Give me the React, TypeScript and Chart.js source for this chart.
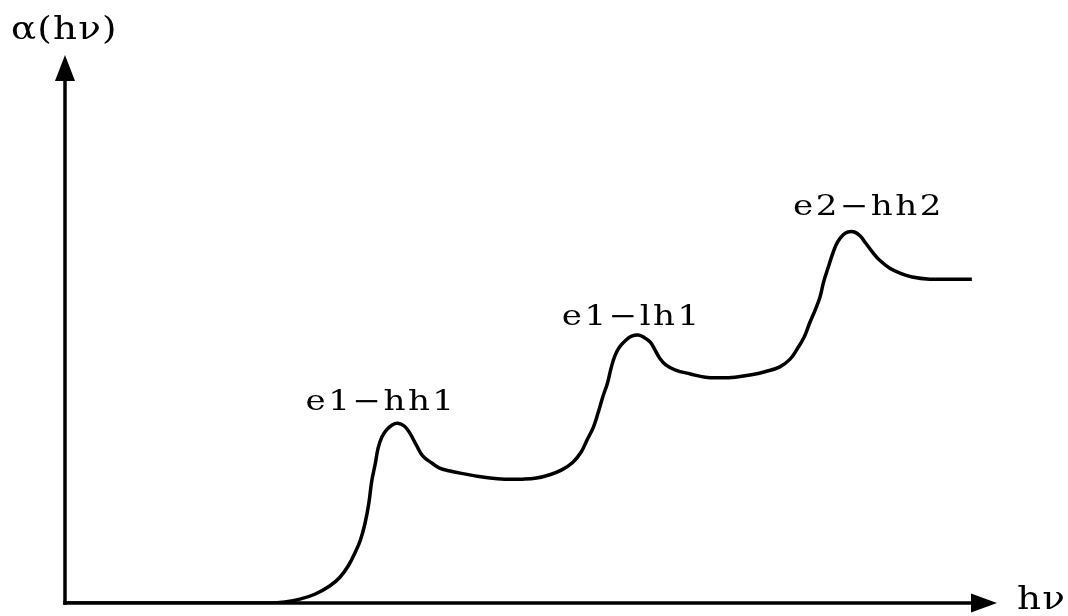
import React, { useEffect, useRef } from "react";
import { Chart, registerables } from "chart.js";

Chart.register(...registerables);

// Photon energy (arbitrary units)
const energy = [
  0, 22.0, 23.6, 25.2, 26.8, 28.4, 29.5, 30.4, 31.1, 31.7, 32.2, 32.6, 32.9, 33.3,
  33.6, 34.0, 34.5, 35.1, 35.7, 36.4, 37.0, 37.7, 38.4, 39.4, 40.2, 41.3, 42.4,
  44.0, 45.6, 47.2, 49.1, 50.6, 52.0, 53.3, 54.5, 55.4, 56.0, 56.7, 57.2, 57.7,
  58.2, 58.6, 59.0, 59.5, 60.2, 60.8, 61.5, 62.1, 62.8, 63.3, 63.8, 64.5, 65.5,
  67.1, 68.7, 70.3, 71.9, 73.5, 75.1, 76.7, 77.8, 78.5, 79.3, 79.9, 80.5, 81.0,
  81.4, 81.9, 82.4, 82.9, 83.5, 84.0, 84.7, 85.3, 85.9, 86.7, 87.5, 88.5, 89.6,
  90.9, 92.8, 94.9, 97.3,
];
// Absorption coefficient (arbitrary units)
const absorption = [
  0, 0, 0.2, 0.7, 1.6, 3.1, 4.7, 6.8, 9.1, 11.5, 14.6, 18.2, 22.1, 25.5,
  28.3, 30.3, 31.6, 32.5, 32.8, 32.3, 31.0, 28.8, 26.8, 25.5, 24.6, 24.1, 23.7,
  23.2, 22.8, 22.6, 22.6, 22.8, 23.4, 24.3, 25.7, 27.6, 29.7, 32.1, 34.7, 37.6,
  40.1, 42.9, 45.1, 46.7, 48.0, 48.7, 48.9, 48.5, 47.6, 46.2, 44.7, 43.4, 42.5,
  41.8, 41.2, 41.1, 41.2, 41.6, 42.2, 43.1, 44.5, 46.2, 48.5, 51.1, 53.5, 55.8,
  58.6, 61.3, 63.9, 65.9, 67.2, 67.7, 67.7, 67.0, 65.7, 63.9, 62.4, 61.1, 60.2,
  59.5, 59.1, 59.1, 59.1,
];

// Exciton transition labels and their anchor positions (data units)
const transitionLabels = ["e1\u2212hh1", "e1\u2212lh1", "e2\u2212hh2"];
const transitionX = [33.8, 60.7, 86.1];
const transitionY = [35.2, 50.7, 70.8];

const yAxisTitle = "\u03B1(h\u03BD)";
const xAxisTitle = "h\u03BD";

const FONT = '"DejaVu Serif", "Liberation Serif", serif';

// Draws text stretched horizontally, anchored at (x, y) with the given alignment
function wideText(ctx: CanvasRenderingContext2D, text: string, x: number, y: number, sx: number, align: "left" | "center") {
  ctx.save();
  ctx.translate(x, y);
  ctx.scale(sx, 1);
  ctx.textAlign = align;
  ctx.fillText(text, 0, 0);
  ctx.restore();
}

const axesPlugin = {
  id: "arrowAxes",
  afterDatasetsDraw(chart: any) {
    const { ctx, chartArea } = chart;
    const { left, right, top, bottom } = chartArea;
    ctx.save();
    ctx.strokeStyle = "#000";
    ctx.fillStyle = "#000";
    ctx.lineWidth = 3.5;
    ctx.lineCap = "butt";
    // vertical axis
    ctx.beginPath();
    ctx.moveTo(left, bottom + 1.75);
    ctx.lineTo(left, top + 20);
    ctx.stroke();
    ctx.beginPath();
    ctx.moveTo(left, top);
    ctx.lineTo(left - 10, top + 26);
    ctx.lineTo(left + 10, top + 26);
    ctx.closePath();
    ctx.fill();
    // horizontal axis
    ctx.beginPath();
    ctx.moveTo(left - 1.75, bottom);
    ctx.lineTo(right - 20, bottom);
    ctx.stroke();
    ctx.beginPath();
    ctx.moveTo(right, bottom);
    ctx.lineTo(right - 26, bottom - 9.5);
    ctx.lineTo(right - 26, bottom + 9.5);
    ctx.closePath();
    ctx.fill();

    // axis titles
    ctx.textBaseline = "alphabetic";
    ctx.font = `31px ${FONT}`;
    (ctx as any).letterSpacing = "1px";
    wideText(ctx, yAxisTitle, 11, 39, 1.2, "left");
    wideText(ctx, xAxisTitle, right + 20, bottom + 6, 1.2, "left");

    // transition labels
    const xs = chart.scales.x;
    const ys = chart.scales.y;
    ctx.font = `28px ${FONT}`;
    (ctx as any).letterSpacing = "2px";
    transitionLabels.forEach((t, i) => {
      wideText(ctx, t, xs.getPixelForValue(transitionX[i]) + 1, ys.getPixelForValue(transitionY[i]), 1.22, "center");
    });
    ctx.restore();
  },
};

export default function App() {
  const canvasRef = useRef<HTMLCanvasElement | null>(null);

  useEffect(() => {
    const canvas = canvasRef.current;
    if (!canvas) return;
    const chart = new Chart(canvas, {
      type: "line",
      data: {
        datasets: [
          {
            data: energy.map((x, i) => ({ x, y: absorption[i] })),
            borderColor: "#000",
            borderWidth: 3.5,
            pointRadius: 0,
            fill: false,
            tension: 0.4,
          },
        ],
      },
      options: {
        responsive: false,
        animation: false,
        layout: { padding: { left: 65, right: 71, top: 55, bottom: 13 } },
        plugins: { legend: { display: false }, tooltip: { enabled: false } },
        scales: {
          x: { type: "linear", min: 0, max: 100, display: false },
          y: { type: "linear", min: 0, max: 100, display: false },
        },
      },
      plugins: [axesPlugin],
    });
    return () => chart.destroy();
  }, []);

  return (
    <div style={{ position: "fixed", left: 0, top: 0, width: 1068, height: 616, background: "#fff" }}>
      <canvas ref={canvasRef} width={1068} height={616} />
    </div>
  );
}
